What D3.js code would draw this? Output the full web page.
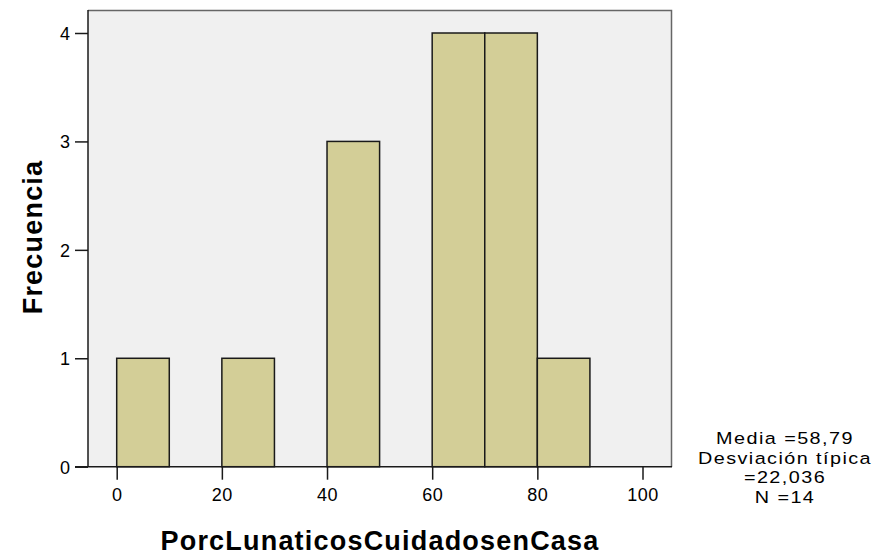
<!DOCTYPE html>
<html>
<head>
<meta charset="utf-8">
<script src="https://cdn.jsdelivr.net/npm/d3@7"></script>
<style>
  html, body { margin: 0; padding: 0; background: #ffffff; }
  svg { display: block; }
  text { font-family: "Liberation Sans", Arial, sans-serif; fill: #000; }
</style>
</head>
<body>
<svg id="chart" width="884" height="557"></svg>
<script>
// Histogram bins (lower edge, upper edge) and frequencies
const binStarts = [0, 10, 20, 30, 40, 50, 60, 70, 80];
const binWidth = 10;
const frequencies = [1, 0, 1, 0, 3, 0, 4, 4, 1];
const xTicks = [0, 20, 40, 60, 80, 100];
const yTicks = [0, 1, 2, 3, 4];
const xTitle = "PorcLunaticosCuidadosenCasa";
const yTitle = "Frecuencia";
const statsLines = ["Media =58,79", "Desviación típica", "=22,036", "N =14"];

const svg = d3.select("#chart");

const frame = { left: 88, right: 672, top: 10, bottom: 467 };

const x = d3.scaleLinear().domain([0, 100]).range([116.7, 642.5]);
const y = d3.scaleLinear().domain([0, 4]).range([466.7, 33]);

// Plot background
svg.append("rect")
  .attr("x", frame.left).attr("y", frame.top)
  .attr("width", frame.right - frame.left)
  .attr("height", frame.bottom - frame.top)
  .attr("fill", "#f0f0f0");

// top and right border
svg.append("path")
  .attr("d", `M${frame.left},${frame.top + 0.5}H${frame.right - 0.5}V${frame.bottom}`)
  .attr("fill", "none").attr("stroke", "#666666").attr("stroke-width", 1.5);

// Bars
svg.append("g").selectAll("rect")
  .data(binStarts.map((s, i) => ({ s, f: frequencies[i] })).filter(d => d.f > 0))
  .join("rect")
  .attr("x", d => x(d.s))
  .attr("y", d => y(d.f))
  .attr("width", d => x(d.s + binWidth) - x(d.s))
  .attr("height", d => y(0) - y(d.f))
  .attr("fill", "#d3ce97")
  .attr("stroke", "#1a1a1a")
  .attr("stroke-width", 1.5);

// Y axis
const yAxis = d3.axisLeft(y).tickValues(yTicks).tickSize(13).tickPadding(5).tickFormat(d3.format("d"));
const gy = svg.append("g").attr("transform", `translate(${frame.left},0)`).call(yAxis);
gy.select(".domain").attr("d", `M0,${frame.top}V${frame.bottom}`).attr("stroke", "#1a1a1a").attr("stroke-width", 1.5);
gy.selectAll(".tick line").attr("stroke", "#1a1a1a").attr("stroke-width", 1.5);
gy.selectAll(".tick text").attr("font-size", 18).attr("font-family", "Liberation Sans, Arial, sans-serif").attr("dy", "0.35em");

// X axis
const xAxis = d3.axisBottom(x).tickValues(xTicks).tickSize(13).tickPadding(9).tickFormat(d3.format("d"));
const gx = svg.append("g").attr("transform", `translate(0,${y(0)})`).call(xAxis);
gx.select(".domain").attr("d", `M${frame.left - 13},0H${frame.right}`).attr("stroke", "#1a1a1a").attr("stroke-width", 1.5);
gx.selectAll(".tick line").attr("stroke", "#1a1a1a").attr("stroke-width", 1.5);
gx.selectAll(".tick text").attr("font-size", 18).attr("letter-spacing", 0.5).attr("font-family", "Liberation Sans, Arial, sans-serif");

// Axis titles
svg.append("text")
  .attr("x", 380).attr("y", 550)
  .attr("text-anchor", "middle")
  .attr("font-size", 27).attr("font-weight", "bold")
  .attr("letter-spacing", 1.2)
  .text(xTitle);

svg.append("text")
  .attr("transform", "translate(42,237) rotate(-90)")
  .attr("text-anchor", "middle")
  .attr("font-size", 27).attr("font-weight", "bold")
  .attr("letter-spacing", 1.2)
  .text(yTitle);

// Stats (horizontally stretched to match the wide, tightly stacked legend text)
const stats = svg.append("g").attr("transform", "translate(785,0) scale(1.2,1)");
stats.selectAll("text")
  .data(statsLines)
  .join("text")
  .attr("x", 0)
  .attr("y", (d, i) => 444 + i * 19.7)
  .attr("text-anchor", "middle")
  .attr("font-size", 16.5)
  .attr("letter-spacing", 1.2)
  .text(d => d);
</script>
</body>
</html>
